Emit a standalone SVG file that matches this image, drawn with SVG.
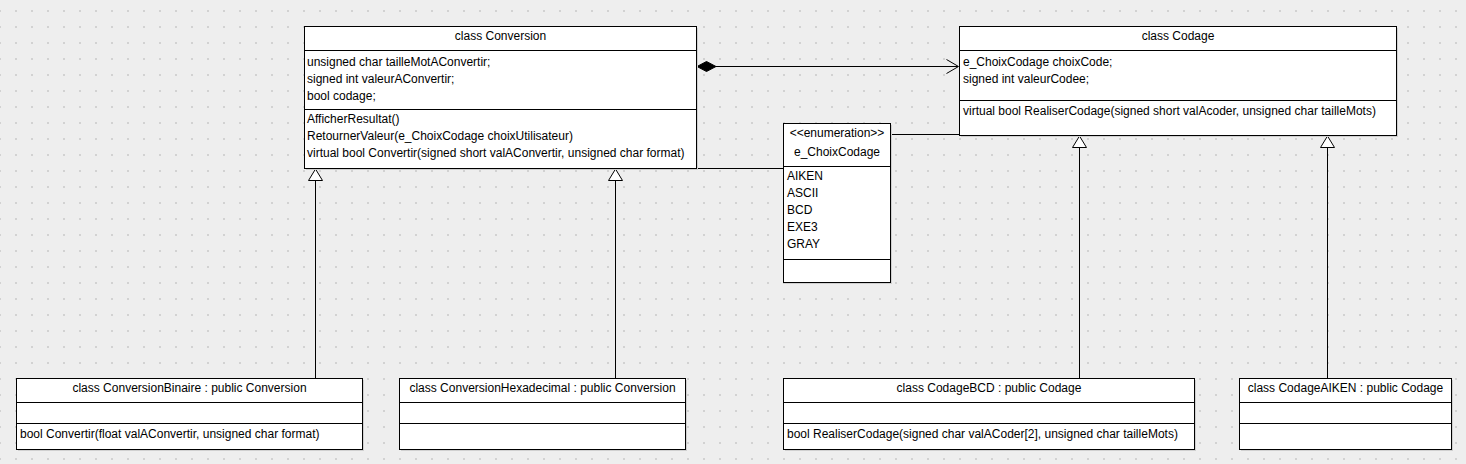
<svg xmlns="http://www.w3.org/2000/svg" width="1466" height="464" viewBox="0 0 1466 464">
<defs>
<pattern id="grid" x="-1" y="10" width="16" height="16" patternUnits="userSpaceOnUse">
<rect x="0" y="0" width="2" height="2" fill="#d2d2d2"/>
</pattern>
<style>
.box{fill:#ffffff;stroke:#000000;stroke-width:1}
.shadow{fill:#d0d0d0}
.sep{stroke:#000000;stroke-width:1}
text{font-family:"Liberation Sans",Arial,sans-serif;font-size:12px;fill:#000000}
.c{text-anchor:middle}
.ln{stroke:#000000;stroke-width:1;fill:none}
.tri{fill:#ffffff;stroke:#000000;stroke-width:1}
</style>
</defs>
<rect width="1466" height="464" fill="#eeeeee"/>
<rect width="1466" height="464" fill="url(#grid)"/>

<g id="connectors">
<line class="ln" x1="716" y1="66.5" x2="958" y2="66.5"/>
<polygon points="697,66.5 706.5,61.5 716,66.5 706.5,71.5" fill="#000000" stroke="#000000" stroke-width="1"/>
<polyline class="ln" points="946.5,59.5 958.5,66.5 946.5,73.5"/>
<line class="ln" x1="697" y1="168.5" x2="783" y2="168.5"/>
<line class="ln" x1="892" y1="134.5" x2="959" y2="134.5"/>
<line class="ln" x1="315.5" y1="180.5" x2="315.5" y2="378"/>
<polygon class="tri" points="315.5,169 308.5,180.5 322.5,180.5"/>
<line class="ln" x1="615.5" y1="180.5" x2="615.5" y2="378"/>
<polygon class="tri" points="615.5,169 608.5,180.5 622.5,180.5"/>
<line class="ln" x1="1079.5" y1="147.5" x2="1079.5" y2="378"/>
<polygon class="tri" points="1079.5,136 1072.5,147.5 1086.5,147.5"/>
<line class="ln" x1="1327.5" y1="147.5" x2="1327.5" y2="378"/>
<polygon class="tri" points="1327.5,136 1320.5,147.5 1334.5,147.5"/>
</g>

<g id="Conversion">
<rect class="shadow" x="306" y="28" width="392" height="142"/>
<rect class="box" x="304.5" y="26.5" width="392" height="142"/>
<line class="sep" x1="304.5" y1="50.5" x2="696.5" y2="50.5"/>
<line class="sep" x1="304.5" y1="109.5" x2="696.5" y2="109.5"/>
<text class="c" x="500.5" y="40">class Conversion</text>
<text x="307" y="66">unsigned char tailleMotAConvertir;</text>
<text x="307" y="83">signed int valeurAConvertir;</text>
<text x="307" y="100">bool codage;</text>
<text x="307" y="123">AfficherResultat()</text>
<text x="307" y="140">RetournerValeur(e_ChoixCodage choixUtilisateur)</text>
<text x="307" y="157">virtual bool Convertir(signed short valAConvertir, unsigned char format)</text>
</g>

<g id="Codage">
<rect class="shadow" x="961" y="28" width="437" height="109"/>
<rect class="box" x="959.5" y="26.5" width="437" height="109"/>
<line class="sep" x1="959.5" y1="50.5" x2="1396.5" y2="50.5"/>
<line class="sep" x1="959.5" y1="100.5" x2="1396.5" y2="100.5"/>
<text class="c" x="1178" y="40">class Codage</text>
<text x="963" y="66">e_ChoixCodage choixCode;</text>
<text x="963" y="83">signed int valeurCodee;</text>
<text x="963" y="115">virtual bool RealiserCodage(signed short valAcoder, unsigned char tailleMots)</text>
</g>

<g id="e_ChoixCodage">
<rect class="shadow" x="785" y="125" width="107" height="159"/>
<rect class="box" x="783.5" y="123.5" width="107" height="159"/>
<line class="sep" x1="783.5" y1="166.5" x2="890.5" y2="166.5"/>
<line class="sep" x1="783.5" y1="259.5" x2="890.5" y2="259.5"/>
<text class="c" x="837" y="136.5">&lt;&lt;enumeration&gt;&gt;</text>
<text class="c" x="837" y="156">e_ChoixCodage</text>
<text x="787" y="180">AIKEN</text>
<text x="787" y="197">ASCII</text>
<text x="787" y="214">BCD</text>
<text x="787" y="231">EXE3</text>
<text x="787" y="248">GRAY</text>
</g>

<g id="ConversionBinaire">
<rect class="shadow" x="18" y="380" width="346" height="71"/>
<rect class="box" x="16.5" y="378.5" width="346" height="71"/>
<line class="sep" x1="16.5" y1="402.5" x2="362.5" y2="402.5"/>
<line class="sep" x1="16.5" y1="423.5" x2="362.5" y2="423.5"/>
<text class="c" x="189.5" y="392">class ConversionBinaire : public Conversion</text>
<text x="20" y="438">bool Convertir(float valAConvertir, unsigned char format)</text>
</g>

<g id="ConversionHexadecimal">
<rect class="shadow" x="401" y="380" width="286" height="71"/>
<rect class="box" x="399.5" y="378.5" width="286" height="71"/>
<line class="sep" x1="399.5" y1="402.5" x2="685.5" y2="402.5"/>
<line class="sep" x1="399.5" y1="423.5" x2="685.5" y2="423.5"/>
<text class="c" x="542.5" y="392">class ConversionHexadecimal : public Conversion</text>
</g>

<g id="CodageBCD">
<rect class="shadow" x="785" y="380" width="411" height="71"/>
<rect class="box" x="783.5" y="378.5" width="411" height="71"/>
<line class="sep" x1="783.5" y1="402.5" x2="1194.5" y2="402.5"/>
<line class="sep" x1="783.5" y1="423.5" x2="1194.5" y2="423.5"/>
<text class="c" x="989" y="392">class CodageBCD : public Codage</text>
<text x="787" y="438">bool RealiserCodage(signed char valACoder[2], unsigned char tailleMots)</text>
</g>

<g id="CodageAIKEN">
<rect class="shadow" x="1241" y="380" width="212" height="71"/>
<rect class="box" x="1239.5" y="378.5" width="212" height="71"/>
<line class="sep" x1="1239.5" y1="402.5" x2="1451.5" y2="402.5"/>
<line class="sep" x1="1239.5" y1="423.5" x2="1451.5" y2="423.5"/>
<text class="c" x="1345.5" y="392">class CodageAIKEN : public Codage</text>
</g>
</svg>
